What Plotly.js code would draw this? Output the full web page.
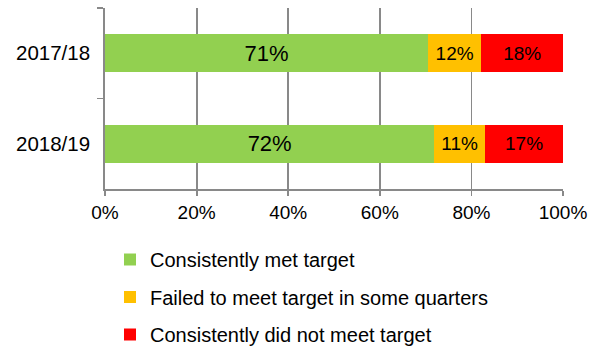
<!DOCTYPE html>
<html><head><meta charset="utf-8">
<script src="https://cdn.plot.ly/plotly-3.0.1.min.js"></script>
<style>html,body{margin:0;padding:0;background:#fff}#chart{width:598px;height:347px}</style>
</head><body><div id="chart"></div>
<script>
const years = ['2017/18', '2018/19'];
const seriesNames = ['Consistently met target', 'Failed to meet target in some quarters', 'Consistently did not meet target'];
const metTarget = [70.5, 71.9];
const failedSome = [11.7, 11.1];
const notMet = [17.8, 17.0];
const metLabels = ['71%', '72%'];
const failedLabels = ['12%', '11%'];
const notMetLabels = ['18%', '17%'];
const xTicks = [0, 20, 40, 60, 80, 100];
const xTickLabels = ['0%', '20%', '40%', '60%', '80%', '100%'];

const colors = ['#92D050', '#FFC000', '#FF0000'];
const vals = [metTarget, failedSome, notMet];
const labs = [metLabels, failedLabels, notMetLabels];
const sizes = [22, 19, 19];
const FONT = 'Liberation Sans, Arial, sans-serif';

const data = vals.map((v, i) => ({
  type: 'bar', orientation: 'h', y: years, x: v,
  name: seriesNames[i], legendgroup: 'g' + i,
  marker: {color: colors[i], line: {width: 0}},
  text: labs[i], textposition: 'inside', insidetextanchor: 'middle',
  textangle: 0,
  textfont: {family: FONT, size: sizes[i], color: '#000'},
  constraintext: 'none', hoverinfo: 'skip'
}));

const layout = {
  width: 598, height: 347,
  margin: {l: 105, r: 35, t: 8, b: 158, autoexpand: false},
  barmode: 'stack', bargap: 0.58,
  paper_bgcolor: '#fff', plot_bgcolor: '#fff',
  font: {family: FONT, size: 19, color: '#000'},
  xaxis: {
    range: [0, 100], tickmode: 'array', tickvals: xTicks, ticktext: xTickLabels,
    showgrid: true, gridcolor: '#898989', gridwidth: 1.8,
    showline: true, linecolor: '#898989', linewidth: 1.8,
    ticks: 'outside', ticklen: 5, tickcolor: '#898989', tickwidth: 1.8,
    zeroline: false, fixedrange: true, automargin: false, tickangle: 0,
    tickfont: {family: FONT, size: 19, color: '#000'}
  },
  yaxis: {
    type: 'category', autorange: 'reversed', automargin: false,
    showline: true, linecolor: '#898989', linewidth: 1.8,
    ticks: 'outside', ticklen: 6, tickcolor: '#898989', tickwidth: 1.8,
    tickson: 'boundaries', showgrid: false, zeroline: false,
    ticklabelstandoff: 9,
    tickfont: {family: FONT, size: 20.5, color: '#000'}
  },
  showlegend: true,
  legend: {
    orientation: 'v', traceorder: 'grouped',
    xref: 'container', yref: 'container',
    x: 110 / 598, y: 1 - 240 / 347, xanchor: 'left', yanchor: 'top',
    font: {family: FONT, size: 20, color: '#000'},
    tracegroupgap: 8.5, bgcolor: 'rgba(0,0,0,0)'
  }
};

Plotly.newPlot('chart', data, layout, {staticPlot: true, displayModeBar: false});
</script></body></html>
